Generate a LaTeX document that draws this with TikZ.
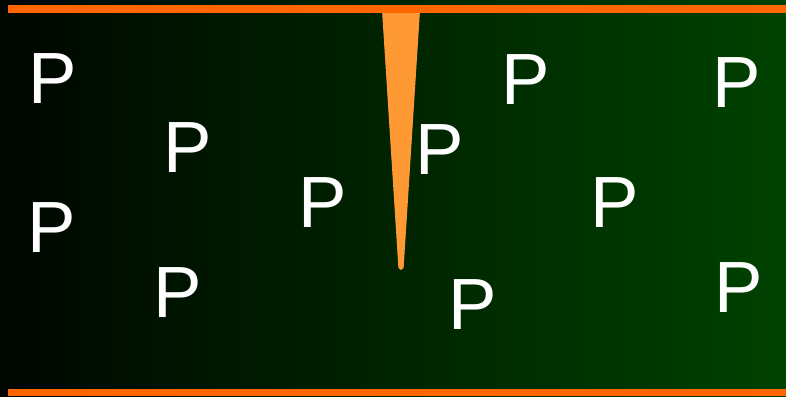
\documentclass[tikz,border=0pt]{standalone}
\usepackage{fontspec}
\setmainfont{Liberation Sans}
\definecolor{barorange}{RGB}{255,102,0}
\definecolor{wedgeorange}{RGB}{255,153,51}
\definecolor{darkgreen}{RGB}{0,66,0}
\definecolor{nearblack}{RGB}{0,6,0}
\begin{document}
\begin{tikzpicture}[x=1pt,y=1pt,
  pletter/.style={text=white,inner sep=0pt,font=\fontsize{72.6}{80}\selectfont}]
\useasboundingbox (0,0) rectangle (786,396);
\shade[left color=nearblack,right color=darkgreen] (0,0) rectangle (786,396);
% wedge
\filldraw[wedgeorange,line width=1pt,rounded corners=2pt,line join=round]
  (382.5,386) -- (419.5,386) -- (403,126.5) -- (399,126.5) -- cycle;
% bars
\fill[barorange] (8,383) rectangle (786,391);
\fill[barorange] (8,0) rectangle (786,7);
% letters
\node[pletter] (p1) at (53,317) {P};
\node[pletter] (p2) at (187.5,248.5) {P};
\node[pletter] (p3) at (51.5,168.5) {P};
\node[pletter] (p4) at (177.5,103.5) {P};
\node[pletter] (p5) at (323,193.5) {P};
\node[pletter] (p6) at (439.5,246) {P};
\node[pletter] (p7) at (525.5,316) {P};
\node[pletter] (p8) at (473,91) {P};
\node[pletter] (p9) at (615,193.5) {P};
\node[pletter] (p10) at (736.5,313.5) {P};
\node[pletter] (p11) at (739,108.5) {P};
\end{tikzpicture}
\end{document}
